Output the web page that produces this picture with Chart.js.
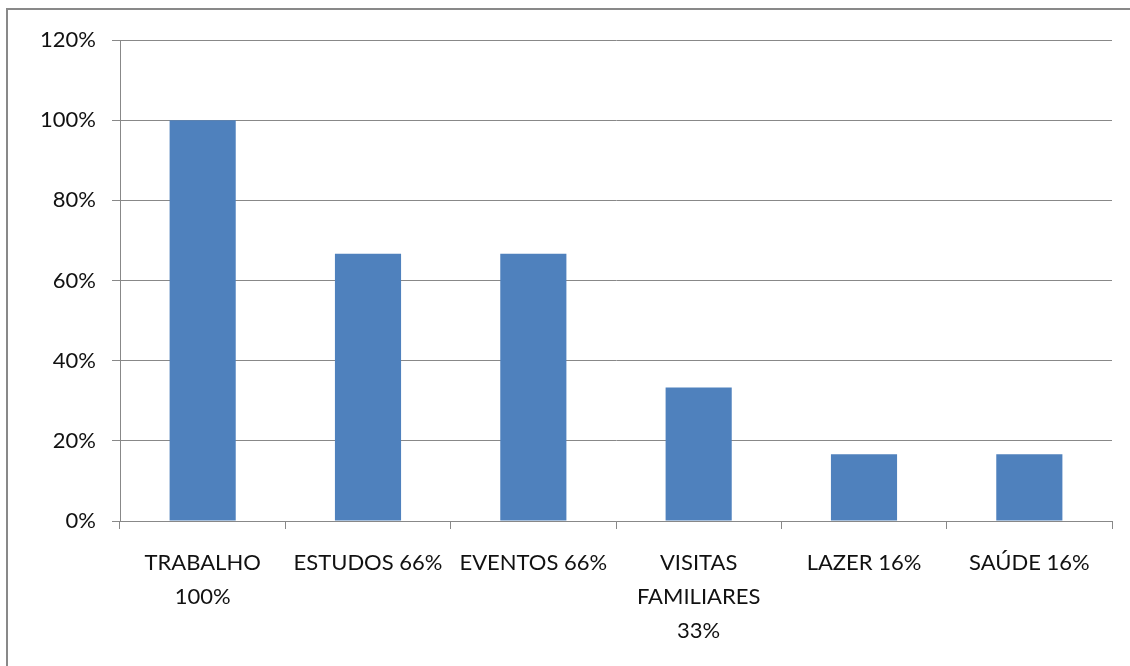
<!DOCTYPE html>
<html>
<head>
<meta charset="utf-8">
<script src="https://cdn.jsdelivr.net/npm/chart.js@4.4.1/dist/chart.umd.min.js"></script>
<style>
  html, body { margin: 0; padding: 0; background: #fff; overflow: hidden; }
  #frame { position: absolute; left: 6px; top: 8px; width: 1200px; height: 720px; border: 2px solid #898989; box-sizing: border-box; }
  #wrap { position: absolute; left: 0; top: 0; width: 1130px; height: 666px; }
</style>
</head>
<body>
<div id="frame"></div>
<div id="wrap"><canvas id="c" width="1130" height="666"></canvas></div>
<script>
const categories = [
  ['TRABALHO', '100%'],
  ['ESTUDOS 66%'],
  ['EVENTOS 66%'],
  ['VISITAS', 'FAMILIARES', '33%'],
  ['LAZER 16%'],
  ['SAÚDE 16%']
];
const values = [100, 66.67, 66.67, 33.33, 16.67, 16.67];
const yTicks = [0, 20, 40, 60, 80, 100, 120];

const FONT = 'Lato, "Open Sans", sans-serif';
const GRID = '#888888';

new Chart(document.getElementById('c'), {
  type: 'bar',
  data: {
    labels: categories,
    datasets: [{
      data: values,
      backgroundColor: '#4F81BD',
      borderWidth: 0,
      categoryPercentage: 1.0,
      barPercentage: 0.4
    }]
  },
  options: {
    responsive: false,
    animation: false,
    devicePixelRatio: 1,
    layout: { padding: { top: 40, right: 18, left: 0, bottom: 0 } },
    plugins: { legend: { display: false }, tooltip: { enabled: false } },
    scales: {
      x: {
        offset: true,
        grid: { display: true, drawOnChartArea: false, offset: true, color: GRID, tickLength: 8, lineWidth: 1 },
        border: { display: true, color: GRID, width: 1 },
        ticks: { color: '#111', font: { family: FONT, size: 22, lineHeight: 1.55 }, padding: 17, maxRotation: 0, autoSkip: false },
        afterFit: (s) => { s.height = 145; }
      },
      y: {
        min: 0, max: 120,
        afterBuildTicks: (s) => { s.ticks = yTicks.map(v => ({ value: v })); },
        grid: { color: GRID, tickLength: 8, lineWidth: 1 },
        border: { display: true, color: GRID, width: 1 },
        ticks: { color: '#111', font: { family: FONT, size: 22 }, padding: 16, callback: (v) => v + '%' },
        afterFit: (s) => { s.width = 120; }
      }
    }
  }
});
</script>
</body>
</html>
